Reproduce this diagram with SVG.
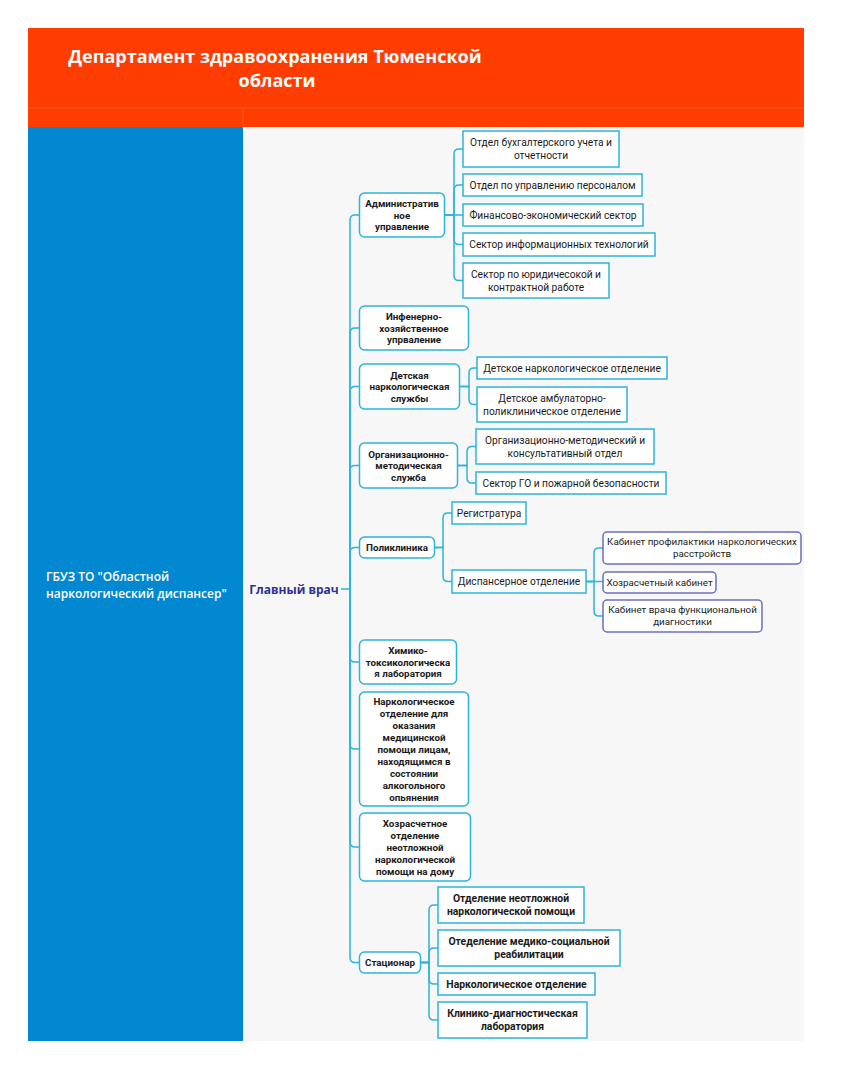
<svg xmlns="http://www.w3.org/2000/svg" width="850" height="1087" viewBox="0 0 850 1087">
<style>
.bg{fill:#ffffff}
.l1 rect{fill:#ffffff;stroke:#2db4dc;stroke-width:1.5}
.l2 rect{fill:#ffffff;stroke:#2db4dc;stroke-width:1.5}
.l3 rect{fill:#ffffff;stroke:#6b6fba;stroke-width:1.5}
text{font-family:"Open Sans","Noto Sans","Liberation Sans",sans-serif;text-anchor:middle;fill:#1a1a1a}
.l1 text,.l2 text,.l3 text{font-family:Roboto,"Liberation Sans",sans-serif}
.l1 text{font-size:9.8px;font-weight:bold}
.l2 text{font-size:10.2px}
.l3 text{font-size:9.8px}
.b text{font-weight:bold;font-size:10.4px}
#connectors path{fill:none;stroke:#2db4dc;stroke-width:1.5}
</style>
<rect class="bg" x="0" y="0" width="850" height="1087"/>
<g id="header">
<rect x="28" y="28" width="776" height="99" fill="#ff3d00"/>
<line x1="28" y1="108" x2="804" y2="108" stroke="#f05a2e" stroke-width="1"/>
<line x1="243" y1="108" x2="243" y2="127" stroke="#f05a2e" stroke-width="1"/>
<text x="275" y="63" style="font-size:18px;font-weight:bold;fill:#ffffff">Департамент здравоохранения Тюменской</text>
<text x="277" y="87" style="font-size:18px;font-weight:bold;fill:#ffffff">области</text>
</g>
<g id="left">
<rect x="28" y="127" width="215" height="914" fill="#0288d1"/>
<text x="46" y="581" style="font-size:12px;font-weight:600;fill:#ffffff;text-anchor:start">ГБУЗ ТО "Областной</text>
<text x="46" y="598" style="font-size:12px;font-weight:600;fill:#ffffff;text-anchor:start">наркологический диспансер"</text>
</g>
<rect x="243" y="127" width="561" height="914" fill="#f7f7f7"/>
<g id="connectors">
<path d="M341,589 H350 V220 Q350,215 355,215 H359"/>
<path d="M350,589 V333 Q350,328 355,328 H359"/>
<path d="M350,589 V391.5 Q350,386.5 355,386.5 H359"/>
<path d="M350,589 V470.5 Q350,465.5 355,465.5 H359"/>
<path d="M350,589 V552.5 Q350,547.5 355,547.5 H359"/>
<path d="M350,589 V657 Q350,662 355,662 H359"/>
<path d="M350,589 V744 Q350,749 355,749 H359"/>
<path d="M350,589 V842 Q350,847 355,847 H359"/>
<path d="M350,589 V957.5 Q350,962.5 355,962.5 H359"/>
<path d="M445,215 H454 V154 Q454,149 459,149 H463"/>
<path d="M445,215 H454 V190 Q454,185 459,185 H463"/>
<path d="M445,215 H463"/>
<path d="M445,215 H454 V239.5 Q454,244.5 459,244.5 H463"/>
<path d="M445,215 H454 V275.5 Q454,280.5 459,280.5 H463"/>
<path d="M460,386.5 H469 V373 Q469,368 474,368 H477"/>
<path d="M460,386.5 H469 V399.5 Q469,404.5 474,404.5 H477"/>
<path d="M458,465.5 H467 V451.5 Q467,446.5 472,446.5 H476"/>
<path d="M458,465.5 H467 V478 Q467,483 472,483 H476"/>
<path d="M435,547.5 H443 V518 Q443,513 448,513 H452"/>
<path d="M435,547.5 H443 V576.5 Q443,581.5 448,581.5 H452"/>
<path d="M586,581.5 H594 V553 Q594,548 599,548 H603"/>
<path d="M586,581.5 H603"/>
<path d="M586,581.5 H594 V611 Q594,616 599,616 H603"/>
<path d="M421,962.5 H429 V910 Q429,905 434,905 H438"/>
<path d="M421,962.5 H429 V953 Q429,948 434,948 H438"/>
<path d="M421,962.5 H429 V979 Q429,984 434,984 H438"/>
<path d="M421,962.5 H429 V1015 Q429,1020 434,1020 H438"/>
</g>
<g id="root">
<text x="294" y="594" style="font-size:12px;font-weight:bold;fill:#2e3192">Главный врач</text>
</g>
<g id="n1" class="l1"><rect x="359.5" y="193" width="85" height="44" rx="5"/>
<text x="402" y="207">Административ</text><text x="402" y="218.7">ное</text><text x="402" y="230.4">управление</text></g>
<g id="n2" class="l1"><rect x="359.5" y="306" width="109" height="44" rx="5"/>
<text x="414" y="320">Инфенерно-</text><text x="414" y="331.7">хозяйственное</text><text x="414" y="343.4">упрваление</text></g>
<g id="n3" class="l1"><rect x="359.5" y="364" width="100" height="45" rx="5"/>
<text x="409.5" y="378.5">Детская</text><text x="409.5" y="390.2">наркологическая</text><text x="409.5" y="401.9">службы</text></g>
<g id="n4" class="l1"><rect x="359.5" y="443" width="98" height="45" rx="5"/>
<text x="408.5" y="457.5">Организационно-</text><text x="408.5" y="469.2">методическая</text><text x="408.5" y="480.9">служба</text></g>
<g id="n5" class="l1"><rect x="359.5" y="537" width="75" height="21" rx="5"/>
<text x="397" y="551">Поликлиника</text></g>
<g id="n6" class="l1"><rect x="359.5" y="640" width="97" height="44" rx="5"/>
<text x="408" y="654">Химико-</text><text x="408" y="665.7">токсикологическа</text><text x="408" y="677.4">я лаборатория</text></g>
<g id="n7" class="l1"><rect x="359.5" y="692" width="109" height="114" rx="5"/>
<text x="414" y="705">Наркологическое</text><text x="414" y="717">отделение для</text><text x="414" y="729">оказания</text><text x="414" y="741">медицинской</text><text x="414" y="753">помощи лицам,</text><text x="414" y="765">находящимся в</text><text x="414" y="777">состоянии</text><text x="414" y="789">алкогольного</text><text x="414" y="801">опьянения</text></g>
<g id="n8" class="l1"><rect x="359.5" y="813" width="111" height="68" rx="5"/>
<text x="415" y="827">Хозрасчетное</text><text x="415" y="839">отделение</text><text x="415" y="851">неотложной</text><text x="415" y="863">наркологической</text><text x="415" y="875">помощи на дому</text></g>
<g id="n9" class="l1"><rect x="359.5" y="952" width="61" height="21" rx="5"/>
<text x="390" y="966">Стационар</text></g>
<g id="a1" class="l2"><rect x="463" y="131" width="156" height="36"/>
<text x="541" y="146">Отдел бухгалтерского учета и</text><text x="541" y="159">отчетности</text></g>
<g id="a2" class="l2"><rect x="463" y="174" width="179" height="22"/>
<text x="552.5" y="188.5">Отдел по управлению персоналом</text></g>
<g id="a3" class="l2"><rect x="463" y="204" width="180" height="22"/>
<text x="553" y="218.5">Финансово-экономический сектор</text></g>
<g id="a4" class="l2"><rect x="463" y="233" width="192" height="23"/>
<text x="559" y="248">Сектор информационных технологий</text></g>
<g id="a5" class="l2"><rect x="463" y="263" width="146" height="35"/>
<text x="536" y="277.5">Сектор по юридичесокой и</text><text x="536" y="290.5">контрактной работе</text></g>
<g id="d1" class="l2"><rect x="477" y="357" width="190" height="22"/>
<text x="572" y="371.5">Детское наркологическое отделение</text></g>
<g id="d2" class="l2"><rect x="477" y="387" width="150" height="35"/>
<text x="552" y="401.5">Детское амбулаторно-</text><text x="552" y="414.5">поликлиническое отделение</text></g>
<g id="o1" class="l2"><rect x="476" y="429" width="178" height="35"/>
<text x="565" y="443.5">Организационно-методический и</text><text x="565" y="456.5">консультативный отдел</text></g>
<g id="o2" class="l2"><rect x="476" y="472" width="190" height="22"/>
<text x="571" y="486.5">Сектор ГО и пожарной безопасности</text></g>
<g id="p1" class="l2"><rect x="452" y="502" width="74" height="22"/>
<text x="489" y="516.5">Регистратура</text></g>
<g id="p2" class="l2"><rect x="452" y="570" width="134" height="23"/>
<text x="519" y="585">Диспансерное отделение</text></g>
<g id="q1" class="l3"><rect x="603" y="532" width="198" height="32" rx="4"/>
<text x="702" y="545">Кабинет профилактики наркологических</text><text x="702" y="557">расстройств</text></g>
<g id="q2" class="l3"><rect x="603" y="572" width="113" height="21" rx="4"/>
<text x="659.5" y="586">Хозрасчетный кабинет</text></g>
<g id="q3" class="l3"><rect x="603" y="600" width="159" height="32" rx="4"/>
<text x="682.5" y="613">Кабинет врача функциональной</text><text x="682.5" y="625">диагностики</text></g>
<g id="s1" class="l2 b"><rect x="438" y="887" width="146" height="36"/>
<text x="511" y="902">Отделение неотложной</text><text x="511" y="915">наркологической помощи</text></g>
<g id="s2" class="l2 b"><rect x="438" y="930" width="182" height="36"/>
<text x="529" y="945">Отеделение медико-социальной</text><text x="529" y="958">реабилитации</text></g>
<g id="s3" class="l2 b"><rect x="438" y="973" width="157" height="22"/>
<text x="516.5" y="987.5">Наркологическое отделение</text></g>
<g id="s4" class="l2 b"><rect x="438" y="1002" width="149" height="36"/>
<text x="512.5" y="1017">Клинико-диагностическая</text><text x="512.5" y="1030">лаборатория</text></g>
</svg>
